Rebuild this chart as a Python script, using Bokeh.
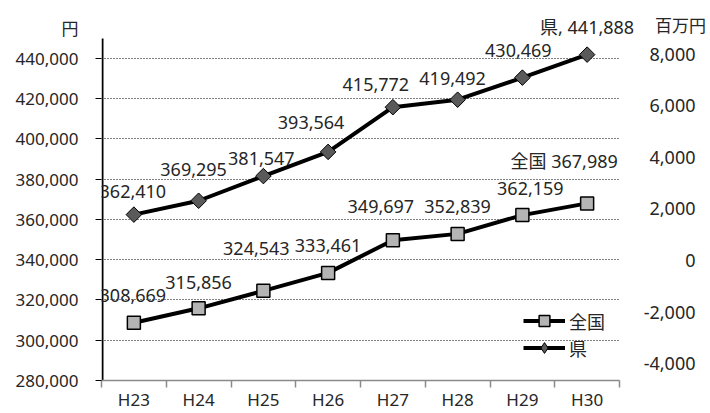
from bokeh.plotting import figure
from bokeh.models import (Range1d, FixedTicker, Label, LabelSet, ColumnDataSource,
                          Legend, LegendItem, NumeralTickFormatter)
from bokeh.core.properties import value
from bokeh.embed import file_html
from bokeh.resources import INLINE
import numpy as np

# ---------------- data ----------------
categories = ["H23", "H24", "H25", "H26", "H27", "H28", "H29", "H30"]
ken = [362410, 369295, 381547, 393564, 415772, 419492, 430469, 441888]
zenkoku = [308669, 315856, 324543, 333461, 349697, 352839, 362159, 367989]
left_ticks = [280000, 300000, 320000, 340000, 360000, 380000, 400000, 420000, 440000]
right_ticks = [-4000, -2000, 0, 2000, 4000, 6000, 8000]
ken_name = "県"
zen_name = "全国"
unit_left = "円"
unit_right = "百万円"

# ---------------- style / layout ----------------
FONT = "'Noto Sans', 'Noto Sans CJK JP', sans-serif"
TXT = "#262626"
W, H = 710, 413
# plot area (where the axes sit)
PL, PR, PT, PB = 101, 619, 38, 382
# frame (extended to the top and right so that texts there are not clipped)
FL, FR, FT, FB = PL, W, 0, PB
Y0, Y1 = 280000, 450000          # left axis extent
R0, R1 = -4656, 8618             # right scale extent on the same plot area
UNIT_Y = 455000                  # level of the "円" unit caption on the left scale
NX = len(categories)

kx = NX / (PR - PL)
ky = (Y1 - Y0) / (PB - PT)
kr = (R1 - R0) / (PB - PT)

def cx(px):
    return (px - PL) * kx

def cy(py):
    return Y0 + (PB - py) * ky

p = figure(width=W, height=H, output_backend="svg", toolbar_location=None,
           x_range=Range1d(0, cx(FR)), y_range=Range1d(Y0, cy(FT)),
           min_border_left=FL, min_border_right=W - FR,
           min_border_top=FT, min_border_bottom=H - FB)
p.extra_y_ranges = {"right": Range1d(R0, R0 + (PB - FT) * kr)}
p.outline_line_color = None
p.background_fill_color = "white"
p.border_fill_color = "white"

# x axis: boundary ticks as minor ticks, category labels at centres
xa = p.xaxis[0]
xa.ticker = FixedTicker(ticks=[i + 0.5 for i in range(NX)], minor_ticks=list(range(NX + 1)))
xa.major_label_overrides = {i + 0.5: c for i, c in enumerate(categories)}
xa.bounds = (0, NX)
xa.axis_line_color = "#8a8a8a"
xa.axis_line_width = 1.5
xa.major_tick_out = 0
xa.major_tick_in = 0
xa.major_tick_line_color = None
xa.minor_tick_line_color = "#8a8a8a"
xa.minor_tick_line_width = 1.5
xa.minor_tick_out = 7
xa.minor_tick_in = 0
xa.major_label_text_font = FONT
xa.major_label_text_font_size = "17px"
xa.major_label_text_color = TXT
xa.major_label_standoff = 0

# y axis: tick marks as minor ticks; the unit caption "円" is an extra label on top
ya = p.yaxis[0]
ya.ticker = FixedTicker(ticks=left_ticks + [UNIT_Y], minor_ticks=left_ticks)
ya.formatter = NumeralTickFormatter(format="0,0")
ya.major_label_overrides = {UNIT_Y: unit_left}
ya.bounds = (Y0, UNIT_Y)
ya.axis_line_color = None
ya.major_tick_line_color = None
ya.major_tick_out = 0
ya.major_tick_in = 0
ya.minor_tick_line_color = "black"
ya.minor_tick_out = 6
ya.minor_tick_in = 0
ya.major_label_text_font = FONT
ya.major_label_text_font_size = "17px"
ya.major_label_text_color = TXT
ya.major_label_standoff = 17

# vertical axis line (only over the plotted value range), just inside the frame edge
xg = p.xgrid[0]
xg.ticker = FixedTicker(ticks=[cx(PL + 1)])
xg.grid_line_color = "black"
xg.grid_line_width = 2
xg.cross_bounds = (Y0, Y1)

yg = p.ygrid[0]
yg.ticker = FixedTicker(ticks=left_ticks[1:])
yg.grid_line_color = "black"
yg.grid_line_dash = "1 2"
yg.grid_line_width = 1
yg.cross_bounds = (0, NX)

xs = [i + 0.5 for i in range(NX)]

r1 = p.line(xs, zenkoku, line_width=4, line_color="black", line_join="round")
r2 = p.scatter(xs, zenkoku, marker="square", size=13, fill_color="#b4b4b4",
               line_color="black", line_width=1.5)
r3 = p.line(xs, ken, line_width=4, line_color="black", line_join="round")
# diamond glyph (used by the legend), hidden under the rotated-square markers
r5 = p.scatter(xs, ken, marker="diamond", size=12, fill_color="#5a5a5a",
               line_color="black", line_width=1)
r4 = p.scatter(xs, ken, marker="square", angle=np.pi / 4, size=11,
               fill_color="#5a5a5a", line_color="black", line_width=1)

legend = Legend(items=[LegendItem(label=zen_name, renderers=[r1, r2]),
                       LegendItem(label=ken_name, renderers=[r3, r5])],
                location=(422, 19), orientation="vertical",
                glyph_width=42, glyph_height=27, label_standoff=4, spacing=0,
                padding=0, margin=0, border_line_color=None,
                background_fill_alpha=0, label_text_font=FONT,
                label_text_font_size="18px", label_text_color=TXT,
                label_height=20)
p.add_layout(legend)

# data labels
ken_txt = ["{:,}".format(v) for v in ken]
ken_txt[-1] = ken_name + ", " + ken_txt[-1]
zen_txt = ["{:,}".format(v) for v in zenkoku]
zen_txt[-1] = zen_name + " " + zen_txt[-1]
ken_dx = [-1, -5, -2, -17, -17, -5, -4, 0]
ken_dy = [23, 31, 18, 29, 23, 21, 27, 28]
zen_dx = [-1, 0, -7, 0, -12, 0, 8, -23]
zen_dy = [27, 26, 42, 27, 34, 27, 27, 42]

for vals, txt, dx, dy in [(ken, ken_txt, ken_dx, ken_dy), (zenkoku, zen_txt, zen_dx, zen_dy)]:
    src = ColumnDataSource(dict(x=xs, y=vals, t=txt, dx=dx, dy=dy))
    p.add_layout(LabelSet(x="x", y="y", text="t", source=src, x_offset="dx", y_offset="dy",
                          text_align="center", text_baseline="middle",
                          text_font=value(FONT), text_font_size="18px", text_color=TXT))

# right-hand scale labels
for v in right_ticks:
    p.add_layout(Label(x=cx(695), y=v, y_range_name="right", text="{:,}".format(v),
                       text_align="right", text_baseline="middle", text_font=FONT,
                       text_font_size="18px", text_color=TXT))

# right unit caption
p.add_layout(Label(x=cx(680), y=cy(25), text=unit_right, text_align="center",
                   text_baseline="middle", text_font=FONT, text_font_size="17px",
                   text_color=TXT))

open("out.html", "w").write(file_html(p, INLINE))
